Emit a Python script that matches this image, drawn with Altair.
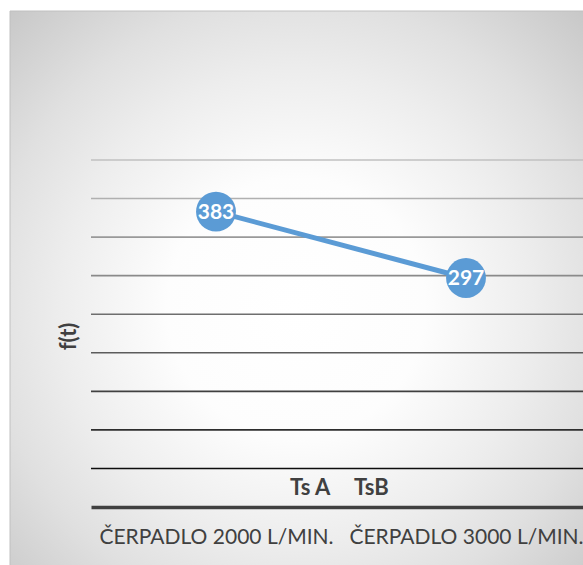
import altair as alt
import pandas as pd

# ---- data ----
categories = ["ČERPADLO 2000 L/MIN.", "ČERPADLO 3000 L/MIN."]
values = [383, 297]
series_names = ["Ts A", "TsB"]
grid_values = [50, 100, 150, 200, 250, 300, 350, 400, 450]
grid_colors = ["#0d0d0d", "#2e2e2e", "#404040", "#5c5c5c", "#6e6e6e",
               "#8a8a8a", "#999999", "#b0b0b0", "#c0c0c0"]

BLUE = "#5b9bd5"
FONT = "Lato"

df = pd.DataFrame({"cat": categories, "val": values, "series": [series_names[0]] * len(values)})
grid_df = pd.DataFrame({"g": grid_values})
bg_df = pd.DataFrame({"a": [0]})

xscale = alt.Scale(domain=categories, range=[0, 500], padding=0.5)
yscale = alt.Scale(domain=[0, 450], nice=False, zero=True)

x_axis = alt.Axis(title=None, labelFont=FONT, labelFontSize=21, labelColor="#404040",
                  labelPadding=19, labelAngle=0, labelLimit=400, ticks=False, grid=False,
                  domainColor="#404040", domainWidth=3.5, zindex=1)
y_axis = alt.Axis(title="f(t)", labels=False, ticks=False, domain=False, grid=False,
                  titleFont=FONT, titleFontSize=22, titleFontWeight="bold",
                  titleColor="#404040", titleAngle=270, titleX=-23, titleY=176,
                  titleAlign="center", titleBaseline="middle", zindex=1)

bg = alt.Chart(bg_df).mark_rect(
    fill={
        "gradient": "radial",
        "x1": 0.48, "y1": 0.52, "r1": 0,
        "x2": 0.48, "y2": 0.52, "r2": 0.72,
        "stops": [
            {"offset": 0.0, "color": "#ffffff"},
            {"offset": 0.3, "color": "#fdfdfd"},
            {"offset": 0.55, "color": "#ededed"},
            {"offset": 0.72, "color": "#e0e0e0"},
            {"offset": 1.0, "color": "#c4c4c4"},
        ],
    },
    stroke="#c0c0c0",
    strokeWidth=1,
).encode(
    x=alt.value(-81), x2=alt.value(515), y=alt.value(-149), y2=alt.value(420)
)

grid = alt.Chart(grid_df).mark_rule(strokeWidth=1.6).encode(
    y=alt.Y("g:Q", scale=yscale, axis=y_axis),
    stroke=alt.Stroke("g:O", scale=alt.Scale(domain=grid_values, range=grid_colors), legend=None),
)

line = alt.Chart(df).mark_line(strokeWidth=5).encode(
    x=alt.X("cat:N", scale=xscale, sort=categories, axis=x_axis),
    y=alt.Y("val:Q", scale=yscale, axis=y_axis),
    color=alt.Color("series:N", scale=alt.Scale(domain=series_names, range=[BLUE, BLUE]),
                    legend=alt.Legend(title=None, orient="none", legendX=177, legendY=317,
                                      direction="horizontal", symbolSize=0, symbolOpacity=0,
                                      symbolStrokeWidth=0, labelOffset=0, columnPadding=0,
                                      labelFont=FONT, labelFontSize=22, labelFontWeight="bold",
                                      labelColor="#404040", zindex=1)),
)

pts = alt.Chart(df).mark_circle(size=1590, opacity=1, color=BLUE).encode(
    x=alt.X("cat:N", scale=xscale, sort=categories, axis=x_axis),
    y=alt.Y("val:Q", scale=yscale, axis=y_axis),
)

labels = alt.Chart(df).mark_text(color="white", font=FONT, fontSize=21, fontWeight="bold",
                                 baseline="middle", align="center", dy=1).encode(
    x=alt.X("cat:N", scale=xscale, sort=categories, axis=x_axis),
    y=alt.Y("val:Q", scale=yscale, axis=y_axis),
    text=alt.Text("val:Q"),
)

chart = alt.layer(bg, grid, line, pts, labels).properties(
    width=492, height=347,
    autosize=alt.AutoSizeParams(type="none"),
    padding={"left": 91, "top": 160, "right": 0, "bottom": 58},
    background="white",
).configure_view(stroke=None)

chart.save("out.html", embed_options={"renderer": "svg", "actions": False})
